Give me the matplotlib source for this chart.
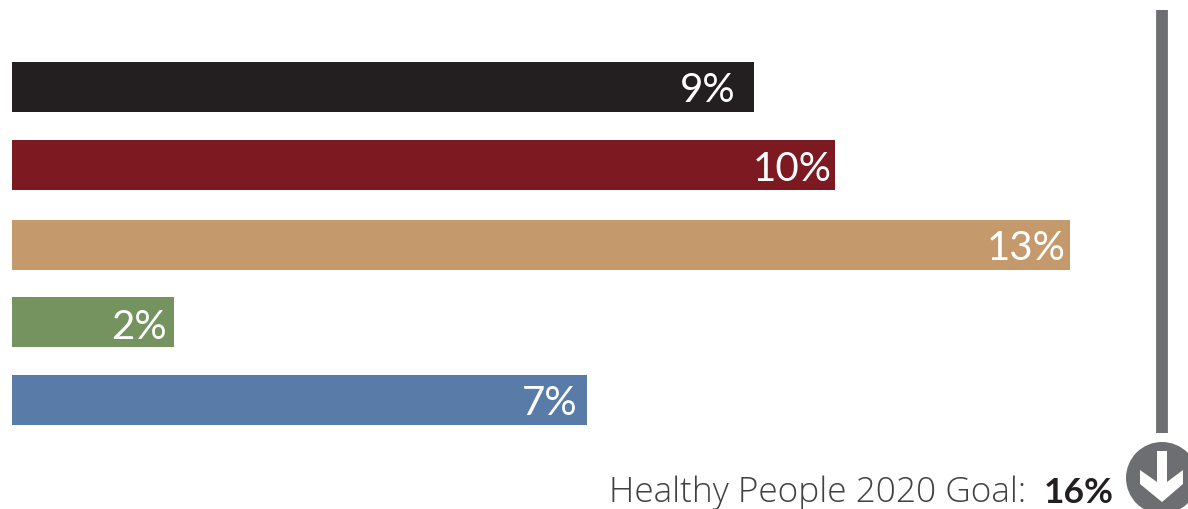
import matplotlib
matplotlib.use("Agg")
import matplotlib.pyplot as plt
from matplotlib.patches import Circle, Polygon

plt.rcParams['font.family'] = ['Lato', 'DejaVu Sans']

# bar values, top to bottom (width in percent)
values = [9.14, 10.14, 13.04, 2.0, 7.08]
labels = ['9%', '10%', '13%', '2%', '7%']
colors = ['#231f20', '#7d1a21', '#c49a6c', '#74935f', '#587ba8']
ypos = [87, 165, 245, 322, 400]
label_gap = [18, 3, 5, 8, 9]
label_y = [87, 166, 245, 324, 400]

goal_pos = 14.17
goal_text = 'Healthy People 2020 Goal:'
goal_label = '16%'

fig = plt.figure(figsize=(11.88, 5.09), dpi=100)
ax = fig.add_axes([0, 0, 1, 1])
ax.set_xlim(-12 / 81.15, (1188 - 12) / 81.15)
ax.set_ylim(509, 0)
ax.axis('off')

ax.barh(ypos, values, height=50, color=colors)
for v, y, lab, gap in zip(values, label_y, labels, label_gap):
    ax.annotate(lab, (v, y), xytext=(-gap * 0.72, 0), textcoords='offset points', ha='right',
                va='center_baseline', color='white', fontsize=29)

# goal line
ax.plot([goal_pos, goal_pos], [10, 433], color='#6d6e71', lw=8.5, solid_capstyle='butt')

# arrow badge, drawn in pixel coordinates
overlay = fig.add_axes([0, 0, 1, 1])
overlay.set_xlim(0, 1188)
overlay.set_ylim(509, 0)
overlay.axis('off')
overlay.add_patch(Circle((1162, 478), 36, color='#6d6e71', lw=0))
overlay.add_patch(Polygon([(1157, 451), (1167, 451), (1167, 482), (1183, 470), (1183, 484),
                           (1162, 502), (1140, 484), (1140, 470), (1157, 482)],
                          color='white', lw=0))

overlay.text(1026, 502, goal_text, ha='right', va='baseline', fontsize=25.4,
             color='#414042', family=['Open Sans', 'DejaVu Sans'], fontweight='light')
overlay.text(1114, 503, goal_label, ha='right', va='baseline', fontsize=25.5,
             color='#231f20', fontweight='bold')

fig.savefig('out.png', dpi=100)
